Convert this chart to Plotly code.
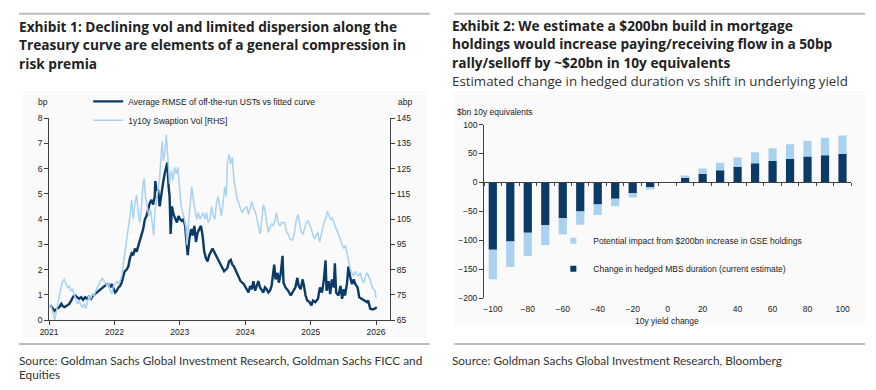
import datetime as dt
import plotly.graph_objects as go

# ---------------- Exhibit 1 data (decimal years) ----------------
rmse_t = [2021.02, 2021.056, 2021.086, 2021.121, 2021.157, 2021.187, 2021.212, 2021.237, 2021.273, 2021.308,
          2021.338, 2021.369, 2021.399, 2021.429, 2021.460, 2021.490, 2021.520, 2021.551, 2021.581, 2021.611,
          2021.641, 2021.672, 2021.702, 2021.732, 2021.763, 2021.793, 2021.823, 2021.854, 2021.884, 2021.909,
          2021.934, 2021.960, 2021.985, 2022.010, 2022.035, 2022.061, 2022.086, 2022.111, 2022.136, 2022.157,
          2022.187, 2022.212, 2022.237, 2022.263, 2022.288, 2022.313, 2022.338, 2022.364, 2022.389, 2022.414,
          2022.439, 2022.465, 2022.490, 2022.515, 2022.540, 2022.566, 2022.591, 2022.616, 2022.625, 2022.641,
          2022.667, 2022.692, 2022.717, 2022.742, 2022.768, 2022.793, 2022.808, 2022.828, 2022.843, 2022.859,
          2022.879, 2022.904, 2022.929, 2022.955, 2022.980, 2023.005, 2023.030, 2023.056, 2023.081, 2023.106,
          2023.121, 2023.146, 2023.172, 2023.197, 2023.222, 2023.247, 2023.273, 2023.298, 2023.323, 2023.348,
          2023.374, 2023.399, 2023.424, 2023.449, 2023.475, 2023.500, 2023.525, 2023.551, 2023.576, 2023.626,
          2023.677, 2023.727, 2023.753, 2023.778, 2023.803, 2023.828, 2023.879, 2023.929, 2023.980, 2024.025,
          2024.051, 2024.076, 2024.101, 2024.126, 2024.152, 2024.177, 2024.202, 2024.227, 2024.253, 2024.278,
          2024.303, 2024.328, 2024.354, 2024.379, 2024.404, 2024.429, 2024.444, 2024.465, 2024.495, 2024.515,
          2024.545, 2024.571, 2024.586, 2024.616, 2024.657, 2024.697, 2024.732, 2024.768, 2024.798, 2024.818,
          2024.848, 2024.879, 2024.899, 2024.924, 2024.949, 2024.985, 2025.010, 2025.035, 2025.071, 2025.111,
          2025.141, 2025.172, 2025.202, 2025.227, 2025.242, 2025.273, 2025.298, 2025.323, 2025.354, 2025.369,
          2025.389, 2025.424, 2025.455, 2025.480, 2025.505, 2025.525, 2025.556, 2025.576, 2025.606, 2025.631,
          2025.657, 2025.682, 2025.717, 2025.742, 2025.778, 2025.818, 2025.859, 2025.879, 2025.909, 2025.944,
          2025.980, 2026.010]
rmse_v = [0.58, 0.45, 0.36, 0.45, 0.51, 0.64, 0.54, 0.51, 0.58, 0.64,
          0.77, 0.93, 0.97, 0.90, 0.84, 0.90, 0.80, 0.90, 0.84, 0.93,
          0.84, 0.97, 1.03, 1.09, 1.18, 1.22, 1.29, 1.35, 1.42, 1.42,
          1.29, 1.42, 1.22, 1.09, 1.16, 1.29, 1.35, 1.48, 1.74, 1.93,
          2.00, 2.12, 2.45, 2.64, 2.57, 2.83, 2.70, 2.96, 3.15, 3.35,
          3.60, 3.99, 4.12, 4.38, 4.63, 4.76, 4.57, 4.89, 5.50, 5.15,
          5.15, 4.50, 5.08, 5.41, 5.79, 6.05, 6.24, 5.28, 4.89, 3.41,
          4.50, 4.18, 3.99, 3.86, 4.12, 3.99, 3.93, 3.99, 3.73, 3.09,
          2.57, 3.22, 3.60, 3.35, 3.73, 3.09, 3.47, 3.60, 3.73, 3.35,
          2.70, 2.45, 2.32, 2.57, 2.70, 2.83, 2.70, 2.57, 2.45, 2.19,
          1.93, 2.06, 2.32, 2.38, 2.19, 2.12, 1.80, 1.54, 1.42, 1.22,
          1.09, 1.35, 1.22, 1.54, 1.16, 1.35, 1.54, 1.29, 1.16, 1.09,
          1.29, 1.22, 1.09, 1.16, 1.35, 1.80, 2.19, 1.61, 1.87, 1.48,
          1.87, 2.54, 1.48, 1.29, 1.16, 0.97, 1.16, 1.29, 1.67, 1.35,
          1.22, 1.61, 1.35, 0.97, 0.77, 0.71, 0.58, 0.77, 0.71, 0.84,
          1.29, 1.09, 1.61, 2.36, 1.16, 1.54, 1.03, 1.61, 1.29, 2.25,
          1.09, 0.97, 1.35, 0.84, 1.22, 0.97, 1.48, 2.12, 1.67, 1.42,
          1.61, 1.42, 1.29, 0.90, 0.84, 0.77, 0.71, 0.77, 0.45, 0.42,
          0.45, 0.51]

vol_t = [2021.02, 2021.045, 2021.071, 2021.086, 2021.106, 2021.131, 2021.157, 2021.182, 2021.207, 2021.232,
         2021.258, 2021.283, 2021.308, 2021.333, 2021.359, 2021.384, 2021.409, 2021.434, 2021.460, 2021.485,
         2021.510, 2021.535, 2021.561, 2021.586, 2021.611, 2021.636, 2021.662, 2021.687, 2021.712, 2021.737,
         2021.763, 2021.788, 2021.813, 2021.838, 2021.864, 2021.889, 2021.909, 2021.934, 2021.960, 2021.985,
         2022.010, 2022.035, 2022.061, 2022.086, 2022.111, 2022.136, 2022.162, 2022.187, 2022.212, 2022.237,
         2022.263, 2022.288, 2022.313, 2022.338, 2022.364, 2022.389, 2022.414, 2022.439, 2022.455, 2022.475,
         2022.500, 2022.525, 2022.551, 2022.576, 2022.601, 2022.616, 2022.641, 2022.667, 2022.692, 2022.717,
         2022.732, 2022.747, 2022.768, 2022.793, 2022.808, 2022.828, 2022.843, 2022.869, 2022.894, 2022.919,
         2022.944, 2022.970, 2022.995, 2023.020, 2023.045, 2023.071, 2023.096, 2023.111, 2023.131, 2023.157,
         2023.182, 2023.207, 2023.232, 2023.258, 2023.283, 2023.308, 2023.333, 2023.359, 2023.384, 2023.409,
         2023.434, 2023.460, 2023.485, 2023.510, 2023.535, 2023.561, 2023.586, 2023.611, 2023.636, 2023.662,
         2023.687, 2023.712, 2023.727, 2023.753, 2023.778, 2023.803, 2023.828, 2023.854, 2023.879, 2023.904,
         2023.929, 2023.955, 2023.980, 2024.025, 2024.051, 2024.076, 2024.101, 2024.126, 2024.152, 2024.177,
         2024.202, 2024.227, 2024.253, 2024.278, 2024.303, 2024.328, 2024.354, 2024.379, 2024.404, 2024.429,
         2024.455, 2024.480, 2024.505, 2024.530, 2024.556, 2024.606, 2024.631, 2024.657, 2024.682, 2024.707,
         2024.732, 2024.758, 2024.783, 2024.808, 2024.833, 2024.859, 2024.884, 2024.909, 2024.934, 2024.960,
         2024.985, 2025.010, 2025.035, 2025.061, 2025.086, 2025.111, 2025.136, 2025.162, 2025.187, 2025.212,
         2025.237, 2025.253, 2025.278, 2025.303, 2025.328, 2025.354, 2025.379, 2025.404, 2025.429, 2025.455,
         2025.480, 2025.505, 2025.530, 2025.556, 2025.581, 2025.606, 2025.631, 2025.657, 2025.682, 2025.707,
         2025.732, 2025.758, 2025.783, 2025.808, 2025.833, 2025.859, 2025.884, 2025.909, 2025.934, 2025.960,
         2025.985, 2026.000]
vol_v = [71.4, 68.9, 66.9, 65.0, 67.6, 71.4, 75.3, 77.9, 80.4, 81.1,
         79.2, 77.9, 78.5, 76.6, 77.2, 75.3, 72.7, 71.4, 72.7, 70.8,
         70.1, 71.4, 69.5, 72.7, 74.7, 73.4, 75.3, 74.7, 76.6, 77.9,
         79.2, 80.4, 81.7, 80.4, 79.2, 78.5, 79.8, 76.6, 75.3, 78.5,
         79.2, 80.4, 79.2, 80.4, 82.4, 86.9, 92.0, 97.2, 102.3, 106.2,
         112.6, 104.9, 111.3, 114.5, 107.5, 103.6, 110.0, 119.7, 121.0, 113.9,
         110.0, 106.2, 108.8, 102.3, 98.5, 107.5, 112.6, 117.8, 121.6, 131.9,
         135.8, 128.0, 130.6, 138.4, 133.2, 125.5, 119.0, 124.2, 120.3, 125.5,
         122.9, 125.5, 117.8, 110.0, 107.5, 104.9, 101.0, 94.6, 102.3, 111.3,
         117.8, 112.6, 108.8, 104.9, 107.5, 104.9, 106.2, 107.5, 104.9, 107.5,
         103.6, 104.9, 110.0, 106.2, 104.9, 111.3, 113.9, 110.0, 106.2, 111.3,
         117.8, 113.9, 126.8, 130.6, 126.8, 129.4, 120.3, 116.5, 112.6, 111.3,
         108.8, 107.5, 108.8, 110.0, 106.8, 109.4, 112.0, 109.4, 108.1, 105.5,
         102.3, 99.1, 104.3, 110.7, 108.1, 103.0, 99.7, 101.7, 103.0, 102.3,
         104.3, 107.5, 103.6, 102.3, 103.6, 103.6, 99.7, 99.1, 97.2, 96.5,
         97.2, 100.4, 104.9, 106.8, 103.6, 99.7, 99.1, 101.7, 103.6, 104.3,
         103.0, 101.0, 98.5, 97.2, 98.5, 99.7, 95.9, 99.7, 101.7, 104.3,
         105.5, 108.1, 106.2, 104.9, 105.5, 103.0, 101.7, 100.4, 98.5, 97.2,
         94.6, 93.3, 94.6, 91.4, 88.8, 85.0, 83.7, 82.4, 84.3, 83.0,
         82.4, 83.7, 81.1, 79.8, 81.7, 83.7, 82.4, 81.1, 78.5, 77.2,
         76.6, 73.6]

# ---------------- Exhibit 2 data ----------------
yield_change = [-100, -90, -80, -70, -60, -50, -40, -30, -20, -10, 0,
                10, 20, 30, 40, 50, 60, 70, 80, 90, 100]
hedged_dur = [-116, -102, -87, -74, -62, -50, -38, -28, -18, -8, 0,
              8, 15, 21, 27, 33, 37, 41, 45, 47, 49]
total_with_gse = [-167, -146, -127, -108, -90, -73, -56, -41, -26, -12, 0,
                  12, 24, 34, 43, 52, 59, 66, 72, 77, 81]
gse_extra = [t - h for t, h in zip(total_with_gse, hedged_dur)]

DARK = "#0b3a66"
LIGHT = "#a9d1f0"
AX = "#404040"
TICKF = dict(family="Liberation Sans, Arial, sans-serif", size=8.5, color="#222")


def to_date(t):
    y = int(t)
    return dt.datetime(y, 1, 1) + dt.timedelta(days=(t - y) * 365.25)


W, H = 876, 390
def px_x(p):
    return p / W
def px_y(p):
    return 1 - p / H

fig = go.Figure()

# Exhibit 1 lines
fig.add_trace(go.Scatter(x=[to_date(t) for t in vol_t], y=vol_v, mode="lines",
                         line=dict(color=LIGHT, width=1.5), name="1y10y Swaption Vol [RHS]",
                         xaxis="x", yaxis="y2", legend="legend", legendrank=2))
fig.add_trace(go.Scatter(x=[to_date(t) for t in rmse_t], y=rmse_v, mode="lines",
                         line=dict(color=DARK, width=2.4),
                         name="Average RMSE of off-the-run USTs vs fitted curve",
                         xaxis="x", yaxis="y", legend="legend", legendrank=1))

# Exhibit 2 bars
fig.add_trace(go.Bar(x=yield_change, y=hedged_dur, marker=dict(color=DARK, line=dict(width=0)),
                     xaxis="x3", yaxis="y3", showlegend=False,
                     name="Change in hedged MBS duration (current estimate)"))
fig.add_trace(go.Bar(x=yield_change, y=gse_extra, marker=dict(color=LIGHT, line=dict(width=0)),
                     xaxis="x3", yaxis="y3", showlegend=False,
                     name="Potential impact from $200bn increase in GSE holdings"))
# legend proxies for exhibit 2
fig.add_trace(go.Scatter(x=[None], y=[None], mode="markers", xaxis="x3", yaxis="y3",
                         marker=dict(symbol="square", size=6, color=LIGHT),
                         name="Potential impact from $200bn increase in GSE holdings",
                         legend="legend2", legendgroup="a", legendrank=1))
fig.add_trace(go.Scatter(x=[None], y=[None], mode="markers", xaxis="x3", yaxis="y3",
                         marker=dict(symbol="square", size=6, color=DARK),
                         name="Change in hedged MBS duration (current estimate)",
                         legend="legend2", legendgroup="b", legendrank=2))

ld = [px_x(40.5), px_x(385)]
ly = [px_y(323.3), px_y(116)]
rd = [px_x(480), px_x(851)]
ry = [px_y(301), px_y(122.7)]
zero_pos = ry[0] + (200 / 300) * (ry[1] - ry[0])

axis_common = dict(showgrid=False, zeroline=False, showline=True, linecolor=AX, linewidth=1,
                   ticks="outside", ticklen=4, tickcolor=AX, tickfont=TICKF)

fig.update_layout(
    width=W, height=H, autosize=False,
    margin=dict(l=0, r=0, t=0, b=0),
    paper_bgcolor="white", plot_bgcolor="rgba(0,0,0,0)",
    barmode="relative", bargap=0.53,
    xaxis=dict(domain=ld, anchor="y", type="date", range=["2021-01-01", "2026-03-20"],
               tickvals=["2021-01-01", "2022-01-01", "2023-01-01", "2024-01-01", "2025-01-01", "2026-01-01"],
               ticktext=["2021", "2022", "2023", "2024", "2025", "2026"], **axis_common),
    yaxis=dict(domain=ly, anchor="x", range=[0, 8], dtick=1, **axis_common),
    yaxis2=dict(domain=ly, anchor="x", overlaying="y", side="right", range=[65, 145],
                tickvals=[65, 75, 85, 95, 105, 115, 125, 135, 145], **axis_common),
    xaxis3=dict(domain=rd, anchor="y3", range=[-105, 105], tickvals=list(range(-100, 101, 20)),
                showgrid=False, zeroline=False, showline=False, ticks="", tickfont=TICKF,
                ticklabelstandoff=4),
    xaxis4=dict(domain=rd, overlaying="x3", anchor="free", position=zero_pos, range=[-105, 105],
                tickvals=list(range(-105, 106, 10)), showticklabels=False, showgrid=False,
                zeroline=False, showline=True, linecolor=AX, linewidth=1, ticks="outside",
                ticklen=3, tickcolor=AX),
    yaxis3=dict(domain=ry, anchor="x3", range=[-200, 100], dtick=50, **axis_common),
    legend=dict(x=px_x(80), y=px_y(84), xanchor="left", yanchor="top", bgcolor="rgba(0,0,0,0)",
                font=dict(family="Liberation Sans, Arial, sans-serif", size=8.5, color="#222"),
                itemwidth=30, tracegroupgap=0),
    legend2=dict(x=px_x(550), y=px_y(227), xanchor="left", yanchor="top", bgcolor="rgba(0,0,0,0)",
                 font=dict(family="Liberation Sans, Arial, sans-serif", size=8.5, color="#222"),
                 itemwidth=30, tracegroupgap=9),
)

# dummy trace for xaxis4 so it renders
fig.add_trace(go.Scatter(x=[None], y=[None], xaxis="x4", yaxis="y3", showlegend=False))

shapes = []
# faint chart panels
shapes.append(dict(type="rect", xref="paper", yref="paper", x0=px_x(14), x1=px_x(422),
                   y0=px_y(342), y1=px_y(88), fillcolor="#fafafa", line=dict(width=0), layer="below"))
shapes.append(dict(type="rect", xref="paper", yref="paper", x0=px_x(450), x1=px_x(865),
                   y0=px_y(330), y1=px_y(88), fillcolor="#fafafa", line=dict(width=0), layer="below"))
# rules (thin filled bands)
for (a, b) in [(10, 425), (450, 865)]:
    for (t0, t1) in [(8, 10), (347, 349)]:
        shapes.append(dict(type="rect", xref="paper", yref="paper", x0=px_x(a), x1=px_x(b),
                           y0=px_y(t1), y1=px_y(t0), fillcolor="#bdbdbd", line=dict(width=0),
                           layer="above"))
fig.update_layout(shapes=shapes)

TITLE_F = dict(family="Open Sans, Noto Sans, sans-serif", size=13.7, color="#222")
SUB_F = dict(family="Open Sans, Noto Sans, sans-serif", size=13.3, color="#333")
SRC_F = dict(family="Lato, Inter, sans-serif", size=11.8, color="#333")
anns = []
def txt(x, y, s, font, xanchor="left"):
    anns.append(dict(x=px_x(x), y=px_y(y), xref="paper", yref="paper", text=s, showarrow=False,
                     xanchor=xanchor, yanchor="middle", font=font, borderpad=0))

bold = lambda s: "<b>" + s + "</b>"
txt(9, 22, bold("Exhibit 1: Declining vol and limited dispersion along the"), TITLE_F)
txt(9, 41, bold("Treasury curve are elements of a general compression in"), TITLE_F)
txt(9, 60, bold("risk premia"), TITLE_F)
txt(447, 21, bold("Exhibit 2: We estimate a $200bn build in mortgage"), TITLE_F)
txt(447, 40, bold("holdings would increase paying/receiving flow in a 50bp"), TITLE_F)
txt(447, 59, bold("rally/selloff by ~$20bn in 10y equivalents"), TITLE_F)
txt(447, 77.5, "Estimated change in hedged duration vs shift in underlying yield", SUB_F)
txt(9, 364.5, "Source: Goldman Sachs Global Investment Research, Goldman Sachs FICC and", SRC_F)
txt(9, 379.5, "Equities", SRC_F)
txt(447, 364.5, "Source: Goldman Sachs Global Investment Research, Bloomberg", SRC_F)
txt(28, 100, "bp", TICKF)
txt(392, 100, "abp", TICKF)
txt(452, 110, "$bn 10y equivalents", TICKF)
txt(665, 324, "10y yield change", TICKF, xanchor="center")
fig.update_layout(annotations=anns)

fig.write_html("out.html", config={"displayModeBar": False},
               post_script="document.body.style.margin='0';document.body.style.padding='0';")
